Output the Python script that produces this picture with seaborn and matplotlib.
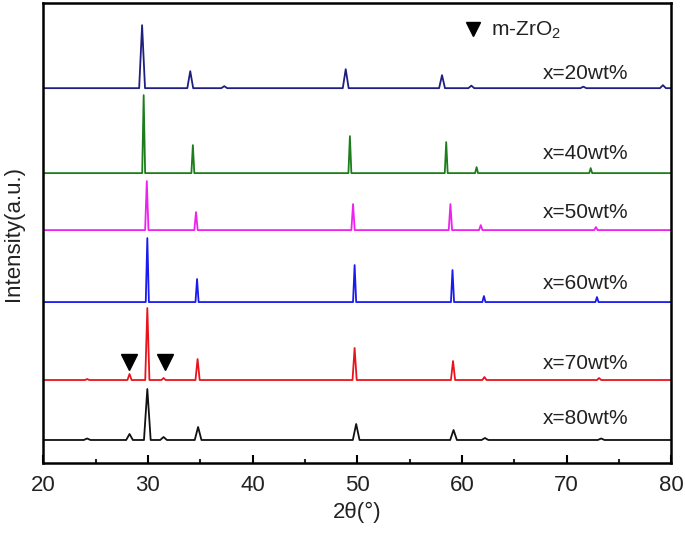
import numpy as np
import pandas as pd
import matplotlib
matplotlib.use("Agg")
import matplotlib.pyplot as plt
from matplotlib.ticker import MultipleLocator
import seaborn as sns


# Samples, top to bottom as drawn
samples = ["x=20wt%", "x=40wt%", "x=50wt%", "x=60wt%", "x=70wt%", "x=80wt%"]
colors = ["#1f1f7f", "#1b7d1b", "#ee22ee", "#1a1aee", "#e8141c", "#111111"]

# vertical stacking offset of each pattern (a.u.)
offsets = [375, 290, 233, 161, 83, 23]

# peak positions (2theta, deg) and heights (a.u.)
pos_20 = [29.45, 34.05, 37.3, 48.9, 58.1, 60.9, 71.6, 79.2]
h_20 = [63, 17, 2, 19, 13, 2.5, 1.5, 3]

pos_40 = [29.6, 34.3, 49.3, 58.5, 61.4, 72.3]
h_40 = [78, 28, 37, 31, 6, 5]

pos_50 = [29.9, 34.6, 49.6, 58.9, 61.8, 72.8]
h_50 = [49, 18, 26, 26, 5, 3]

pos_60 = [29.95, 34.7, 49.75, 59.1, 62.1, 72.9]
h_60 = [64, 23, 37, 32, 6, 5]

pos_70 = [24.2, 28.25, 29.95, 31.5, 34.75, 49.75, 59.15, 62.15, 73.1]
h_70 = [1, 6, 72, 2, 21, 32, 19, 3, 2]

pos_80 = [24.2, 28.25, 29.95, 31.5, 34.8, 49.9, 59.2, 62.2, 73.3]
h_80 = [1.5, 6, 51, 3, 13, 16, 10, 2, 1.5]

# half width of the peak foot per sample (deg)
half_base = [0.28, 0.14, 0.16, 0.15, 0.2, 0.32]

# m-ZrO2 reflections marked on the x=70wt% pattern
mono_peaks = [28.2, 31.6]


def build_frame():
    rows = []
    all_pos = [pos_20, pos_40, pos_50, pos_60, pos_70, pos_80]
    all_h = [h_20, h_40, h_50, h_60, h_70, h_80]
    for name, off, pos, hts, w in zip(samples, offsets, all_pos, all_h, half_base):
        rows.append((name, 20.0, off))
        for p, h in zip(pos, hts):
            rows.append((name, p - w, off))
            rows.append((name, p, off + h))
            rows.append((name, p + w, off))
        rows.append((name, 80.0, off))
    return pd.DataFrame(rows, columns=["sample", "two_theta", "intensity"])


df = build_frame()

sns.set_theme(style="ticks")
plt.rcParams["font.family"] = ["Liberation Sans", "DejaVu Sans"]
plt.rcParams["text.color"] = "#222222"
plt.rcParams["mathtext.fontset"] = "custom"
plt.rcParams["mathtext.rm"] = "Liberation Sans"

fig = plt.figure(figsize=(6.85, 5.34), dpi=100)
ax = fig.add_axes([0.063, 0.133, 0.917, 0.861])

sns.lineplot(
    data=df,
    x="two_theta",
    y="intensity",
    hue="sample",
    hue_order=samples,
    palette=colors,
    sort=False,
    estimator=None,
    linewidth=1.3,
    legend=False,
    ax=ax,
)

# sample labels
label_y = [390, 310, 251, 180, 100, 45]
for name, y in zip(samples, label_y):
    ax.text(71.8, y, name, ha="center", va="center", fontsize=15, color="#222222")

# m-ZrO2 markers
ax.plot(mono_peaks, [101] * len(mono_peaks), linestyle="none", marker="v",
        markersize=12, color="black")
ax.plot([61.1], [434], linestyle="none", marker="v", markersize=9.5, color="black")
ax.text(62.8, 433, "m-ZrO$_2$", ha="left", va="center", fontsize=15, color="#222222")

ax.set_xlim(20, 80)
ax.set_ylim(0, 460)
ax.xaxis.set_major_locator(MultipleLocator(10))
ax.xaxis.set_minor_locator(MultipleLocator(5))
ax.set_yticks([])
ax.tick_params(axis="x", which="major", direction="in", length=6, width=1.5,
               labelsize=16, pad=9, colors="black", labelcolor="#222222")
ax.tick_params(axis="x", which="minor", direction="in", length=3, width=1.5)
for s in ax.spines.values():
    s.set_visible(True)
    s.set_linewidth(1.8)
    s.set_color("black")

ax.set_xlabel("2θ(°)", fontsize=16, labelpad=4, color="#222222")
ax.set_ylabel("Intensity(a.u.)", fontsize=16, labelpad=14, color="#222222")

fig.savefig("out.png", dpi=100)
